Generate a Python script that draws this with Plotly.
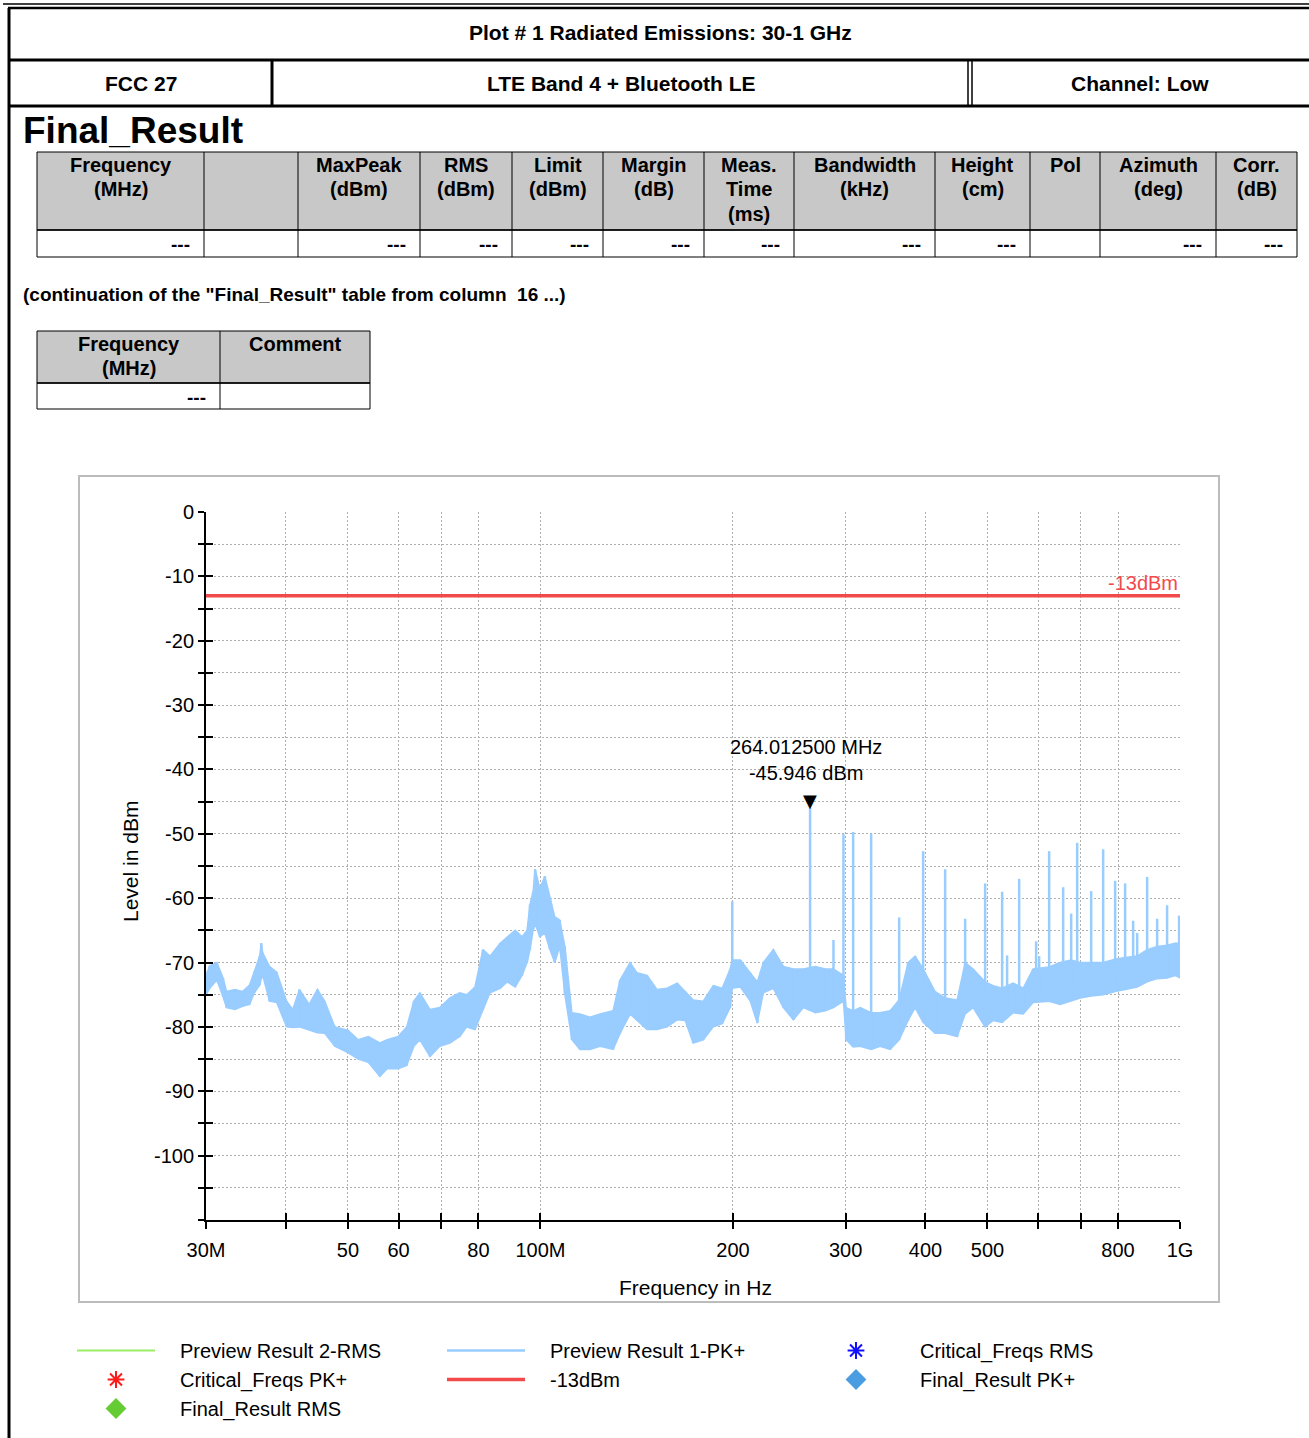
import math
import plotly.graph_objects as go

W, H = 1309, 1438
FONT = "Liberation Sans, Arial, sans-serif"

# ---------------- spectrum data ----------------
# Preview Result 1-PK+ : noise floor envelope (frequency in MHz, level in dBm)
band_freq = [30.0, 30.4, 31.2, 31.9, 32.3, 33.3, 34.2, 35.1, 35.7, 36.4, 36.6, 36.8, 37.7, 38.7,
             40.1, 41.0, 42.0, 43.5, 44.8, 46.0, 47.7, 50.0, 51.9, 53.8, 56.1, 57.6, 59.9, 61.8,
             63.4, 64.8, 67.2, 69.6, 72.2, 74.8, 76.7, 79.0, 81.3, 83.4, 86.5, 88.7, 91.3, 93.6,
             95.3, 96.3, 97.4, 98.1, 99.8, 101.6, 103.5, 105.3, 107.2, 109.2, 112.0, 115.3, 119.5,
             124.0, 129.9, 133.2, 138.1, 141.6, 146.8, 152.2, 157.8, 163.6, 168.4, 173.3, 179.7,
             186.3, 192.4, 198.0, 199.5, 205.4, 212.9, 218.3, 223.1, 231.3, 239.8, 248.6, 257.7,
             269.1, 279.0, 287.2, 297.7, 300.6, 308.3, 316.2, 328.9, 339.7, 352.2, 363.8, 375.7,
             385.3, 396.6, 414.1, 429.3, 448.3, 461.4, 474.8, 495.8, 510.3, 527.1, 548.4, 568.5,
             589.3, 624.3, 649.5, 675.8, 698.1, 726.3, 758.3, 791.7, 820.7, 857.1, 888.4, 921.0,
             954.6, 982.5, 1000.0]
band_hi = [-72.0, -70.5, -70.0, -72.4, -74.5, -74.2, -74.5, -73.5, -71.4, -69.0, -67.0, -68.5, -70.6, -71.5,
           -76.0, -77.3, -74.2, -76.5, -74.2, -76.0, -80.0, -80.5, -82.0, -81.5, -82.5, -82.0, -81.5, -80.0,
           -76.0, -74.7, -77.3, -77.0, -75.5, -74.7, -75.0, -73.8, -68.0, -69.0, -67.0, -66.0, -65.0, -66.0,
           -65.0, -61.0, -59.0, -55.5, -58.5, -56.6, -60.0, -62.9, -63.4, -67.5, -77.8, -78.0, -78.5,
           -78.0, -77.5, -72.7, -70.0, -71.6, -72.0, -74.2, -74.0, -73.2, -74.5, -75.8, -76.0,
           -73.6, -74.0, -71.0, -69.6, -69.6, -71.6, -73.0, -70.0, -68.0, -70.6, -71.0, -71.0,
           -70.6, -71.0, -71.0, -72.0, -77.0, -77.5, -77.0, -77.8, -77.8, -77.5, -75.8, -70.0,
           -69.0, -71.0, -74.5, -75.5, -75.8, -70.0, -71.0, -73.0, -73.6, -74.0, -73.2, -74.0,
           -71.0, -70.7, -70.0, -69.6, -70.0, -70.0, -70.0, -69.5, -69.2, -69.0, -68.0, -67.5,
           -67.3, -67.0, -67.0]
band_lo = [-75.0, -74.0, -72.7, -75.3, -77.0, -77.3, -76.8, -76.5, -74.7, -73.5, -72.5, -72.0, -76.0, -76.2,
           -80.0, -80.1, -80.0, -80.5, -80.9, -81.0, -83.0, -84.0, -85.0, -85.5, -87.7, -86.5, -86.5, -86.0,
           -83.0, -82.0, -84.6, -83.0, -82.5, -81.5, -80.0, -80.4, -77.3, -74.7, -74.0, -73.0, -73.8, -72.0,
           -70.0, -68.0, -65.0, -64.0, -66.0, -65.4, -68.0, -70.0, -67.5, -75.0, -82.0, -83.5, -83.5,
           -83.0, -83.5, -81.0, -78.0, -79.0, -80.4, -80.4, -80.0, -78.9, -79.0, -82.5, -82.0,
           -80.0, -79.5, -77.0, -74.0, -73.8, -76.0, -79.4, -74.7, -74.0, -77.0, -78.9, -77.0,
           -77.8, -77.5, -77.0, -76.0, -82.0, -83.1, -83.0, -83.5, -83.0, -83.5, -82.0, -79.0,
           -77.0, -79.3, -81.0, -81.0, -81.5, -78.0, -77.0, -80.0, -79.0, -79.3, -77.8, -78.0,
           -76.2, -76.0, -76.5, -76.0, -75.5, -75.2, -75.0, -74.5, -74.2, -73.8, -73.0, -72.5,
           -72.4, -72.0, -72.4]

# discrete emissions above the noise floor
spike_freq = [199.5, 264.0125, 287.2, 297.7, 308.3, 328.9, 363.8, 396.6, 429.3, 461.4, 495.8,
              527.1, 536.6, 560.4, 595.7, 602.2, 624.3, 656.6, 675.8, 690.6, 726.3, 758.3,
              791.7, 820.7, 844.7, 857.1, 888.4, 921.0, 954.6, 996.7]
spike_peak = [-60.5, -45.946, -66.5, -50.0, -49.7, -50.0, -63.0, -52.7, -55.5, -63.2, -57.7,
              -59.0, -68.9, -57.0, -66.7, -69.0, -52.7, -58.3, -62.4, -51.4, -58.9, -52.4,
              -57.3, -57.7, -63.5, -65.4, -56.7, -63.2, -61.1, -62.7]
spike_base = [-73.0, -76.0, -76.0, -75.0, -80.0, -80.0, -79.0, -77.0, -79.0, -76.0, -78.0,
              -77.0, -77.0, -76.0, -75.0, -75.0, -74.0, -74.0, -74.0, -74.0, -73.0, -73.0,
              -73.0, -72.0, -72.0, -72.0, -71.0, -71.0, -70.0, -70.0]

limit_dbm = -13.0
marker_freq = 264.0125
marker_level = -45.946

x_tick_vals = [30, 40, 50, 60, 70, 80, 100, 200, 300, 400, 500, 600, 700, 800, 1000]
x_tick_text = ["30M", "", "50", "60", "", "80", "100M", "200", "300", "400", "500", "", "", "800", "1G"]
y_tick_vals = list(range(-110, 1, 5))
y_tick_text = [str(v) if (v % 10 == 0 and v > -110) else "" for v in y_tick_vals]

# ---------------- report table contents ----------------
result_headers = [["Frequency", "(MHz)"], [], ["MaxPeak", "(dBm)"], ["RMS", "(dBm)"],
                  ["Limit", "(dBm)"], ["Margin", "(dB)"], ["Meas.", "Time", "(ms)"],
                  ["Bandwidth", "(kHz)"], ["Height", "(cm)"], ["Pol"], ["Azimuth", "(deg)"],
                  ["Corr.", "(dB)"]]
result_row = ["---", "", "---", "---", "---", "---", "---", "---", "---", "", "---", "---"]
cont_headers = [["Frequency", "(MHz)"], ["Comment"]]
cont_row = ["---", ""]

# ---------------- page geometry (pixels) ----------------
def X(px):
    return px / W


def Y(py):
    return 1 - py / H


shapes = []
annotations = []


def line(x0, y0, x1, y1, width=1, color="black"):
    shapes.append(dict(type="line", xref="paper", yref="paper", x0=X(x0), y0=Y(y0),
                       x1=X(x1), y1=Y(y1), line=dict(color=color, width=width)))


def rect(x0, y0, x1, y1, fill=None, width=1, color="black"):
    shapes.append(dict(type="rect", xref="paper", yref="paper", x0=X(x0), y0=Y(y0),
                       x1=X(x1), y1=Y(y1), line=dict(color=color, width=width),
                       fillcolor=fill if fill else "rgba(0,0,0,0)", layer="below"))


def text(x, y, s, size, bold=False, xanchor="center", color="black", family=FONT, angle=0):
    annotations.append(dict(xref="paper", yref="paper", x=X(x), y=Y(y),
                            text=f"<b>{s}</b>" if bold else s, showarrow=False,
                            xanchor=xanchor, yanchor="middle", textangle=angle,
                            font=dict(size=size, color=color, family=family)))


# report header block
line(3, 4, W, 4, 1.5)
line(8, 8, W, 8, 2.5)
line(9, 8, 9, H, 3)
line(9, 60, W, 60, 3)
line(9, 106, W, 106, 3)
line(272, 60, 272, 106, 3)
line(968, 60, 968, 106, 1.5)
line(972, 60, 972, 106, 1.5)
text(660, 33, "Plot # 1 Radiated Emissions: 30-1 GHz", 21, bold=True)
text(141, 84, "FCC 27", 21, bold=True)
text(621, 84, "LTE Band 4 + Bluetooth LE", 21, bold=True)
text(1140, 84, "Channel: Low", 21, bold=True)

text(21, 131, "Final_Result", 37, bold=True, xanchor="left")

# Final_Result table
cols = [37, 204, 298, 420, 512, 603, 704, 794, 935, 1030, 1100, 1216, 1297]
rect(cols[0], 152, cols[-1], 230, fill="#c8c8c8")
rect(cols[0], 230, cols[-1], 257)
for c in cols[1:-1]:
    line(c, 152, c, 257, 1)
line(cols[0], 230, cols[-1], 230, 1)
head_y = [165, 189, 214]
for i, hdr in enumerate(result_headers):
    cx = (cols[i] + cols[i + 1]) / 2
    for j, s in enumerate(hdr):
        text(cx, head_y[j], s, 20, bold=True)
    if result_row[i]:
        text(cols[i + 1] - 12, 244, result_row[i], 19, bold=True, xanchor="right")

text(21, 294, "(continuation of the \"Final_Result\" table from column  16 ...)", 19, bold=True,
     xanchor="left")

cols2 = [37, 220, 370]
rect(cols2[0], 331, cols2[-1], 383, fill="#c8c8c8")
rect(cols2[0], 383, cols2[-1], 409)
line(cols2[1], 331, cols2[1], 409, 1)
line(cols2[0], 383, cols2[-1], 383, 1)
for i, hdr in enumerate(cont_headers):
    cx = (cols2[i] + cols2[i + 1]) / 2
    for j, s in enumerate(hdr):
        text(cx, [344, 368][j], s, 20, bold=True)
    if cont_row[i]:
        text(cols2[i + 1] - 12, 397, cont_row[i], 19, bold=True, xanchor="right")

# chart frame
rect(79, 476, 1219, 1302, width=2, color="#bcbcbc")

# axis titles
text(130, 862, "Level in dBm", 21, angle=-90)
text(695, 1287, "Frequency in Hz", 21)

# ---------------- traces ----------------
BLUE = "#99ccff"
RED = "#f24a4a"
PAD = "\u2002\u2002"  # gap between legend symbol and label

fig = go.Figure()

# filled noise band
fig.add_trace(go.Scatter(
    x=band_freq + band_freq[::-1], y=band_hi + band_lo[::-1],
    fill="toself", fillcolor=BLUE, mode="lines", line=dict(color=BLUE, width=1.5),
    showlegend=False, hoverinfo="skip"))

# vertical sweeps of the preview trace plus the discrete emissions
px_, py_ = [], []
for f, lo, hi in zip(band_freq, band_lo, band_hi):
    px_ += [f, f, None]
    py_ += [lo, hi, None]
for f, b, p in zip(spike_freq, spike_base, spike_peak):
    px_ += [f, f, None]
    py_ += [b, p, None]
fig.add_trace(go.Scatter(x=px_, y=py_, mode="lines", line=dict(color=BLUE, width=2.5),
                         name=PAD + "Preview Result 1-PK+", legendrank=2))

# result sets without any entries (legend only)
fig.add_trace(go.Scatter(x=[None], y=[None], mode="lines", line=dict(color="#99ee66", width=2),
                         name=PAD + "Preview Result 2-RMS", legendrank=1))
fig.add_trace(go.Scatter(x=[None], y=[None], mode="markers", name=PAD + "Critical_Freqs RMS",
                         legendrank=3,
                         marker=dict(symbol="asterisk-open", size=14, color="#1010ff",
                                     line=dict(color="#1010ff", width=2))))
fig.add_trace(go.Scatter(x=[None], y=[None], mode="markers", name=PAD + "Critical_Freqs PK+",
                         legendrank=4,
                         marker=dict(symbol="asterisk-open", size=14, color="#ff1a1a",
                                     line=dict(color="#ff1a1a", width=2))))
fig.add_trace(go.Scatter(x=[band_freq[0], band_freq[-1]], y=[limit_dbm, limit_dbm], mode="lines",
                         line=dict(color=RED, width=3.5), name=PAD + "-13dBm", legendrank=5))
fig.add_trace(go.Scatter(x=[None], y=[None], mode="markers", name=PAD + "Final_Result PK+",
                         legendrank=6, marker=dict(symbol="diamond", size=17, color="#4a9de0")))
fig.add_trace(go.Scatter(x=[None], y=[None], mode="markers", name=PAD + "Final_Result RMS",
                         legendrank=7, marker=dict(symbol="diamond", size=17, color="#66cc33")))
# companion axes carrying the inner halves of the tick marks
fig.add_trace(go.Scatter(x=[None], y=[None], xaxis="x2", yaxis="y2", showlegend=False,
                         hoverinfo="skip"))

# marker readout
annotations.append(dict(xref="x", yref="y", x=math.log10(marker_freq), y=marker_level,
                        text="\u25bc", showarrow=False, yanchor="bottom", yshift=-5,
                        font=dict(size=18, color="black", family="DejaVu Sans")))
annotations.append(dict(xref="x", yref="y", x=math.log10(marker_freq), y=marker_level,
                        text=f"{marker_freq:.6f} MHz<br>{marker_level:.3f} dBm", showarrow=False,
                        yanchor="bottom", yshift=22, xshift=-4,
                        font=dict(size=20, color="black", family=FONT)))
annotations.append(dict(xref="x", yref="y", x=3, y=limit_dbm, text=f"{limit_dbm:.0f}dBm",
                        showarrow=False, xanchor="right", yanchor="bottom", yshift=0,
                        font=dict(size=20, color=RED, family=FONT)))

xrange = [math.log10(30), math.log10(1000)]
grid = dict(showgrid=True, gridcolor="#b0b0b0", gridwidth=1, griddash="2px,2px")
tickfont = dict(family=FONT, size=20, color="black")

fig.update_layout(
    width=W, height=H, autosize=False,
    margin=dict(l=0, r=0, t=0, b=0, pad=0, autoexpand=False),
    paper_bgcolor="white", plot_bgcolor="white",
    shapes=shapes, annotations=annotations,
    xaxis=dict(type="log", range=xrange, domain=[X(206), X(1180)], anchor="y",
               tickmode="array", tickvals=x_tick_vals, ticktext=x_tick_text,
               ticks="outside", ticklen=7, tickwidth=2, tickcolor="black",
               showline=True, linecolor="black", linewidth=2, zeroline=False,
               tickfont=tickfont, ticklabelstandoff=4, fixedrange=True, automargin=False,
               **grid),
    xaxis2=dict(type="log", range=xrange, domain=[X(206), X(1180)], anchor="y", overlaying="x",
                tickmode="array", tickvals=x_tick_vals, ticks="inside", ticklen=7, tickwidth=2,
                tickcolor="black", showticklabels=False, showgrid=False, showline=False,
                zeroline=False, side="bottom", fixedrange=True),
    yaxis=dict(range=[-110, 0], domain=[Y(1220), Y(512)], anchor="x",
               tickmode="array", tickvals=y_tick_vals, ticktext=y_tick_text,
               ticks="outside", ticklen=6, tickwidth=2, tickcolor="black",
               showline=True, linecolor="black", linewidth=2, zeroline=False,
               tickfont=tickfont, fixedrange=True, automargin=False, **grid),
    yaxis2=dict(range=[-110, 0], domain=[Y(1220), Y(512)], anchor="x", overlaying="y",
                tickmode="array", tickvals=y_tick_vals, ticks="inside", ticklen=7, tickwidth=2,
                tickcolor="black", showticklabels=False, showgrid=False, showline=False,
                zeroline=False, side="left", fixedrange=True),
    legend=dict(orientation="h", x=X(72), y=Y(1331), xanchor="left", yanchor="top",
                itemwidth=78, entrywidth=277, entrywidthmode="pixels",
                font=dict(family=FONT, size=20, color="black"),
                bgcolor="rgba(0,0,0,0)", traceorder="normal", tracegroupgap=0),
    showlegend=True,
)

fig.write_html("out.html")
